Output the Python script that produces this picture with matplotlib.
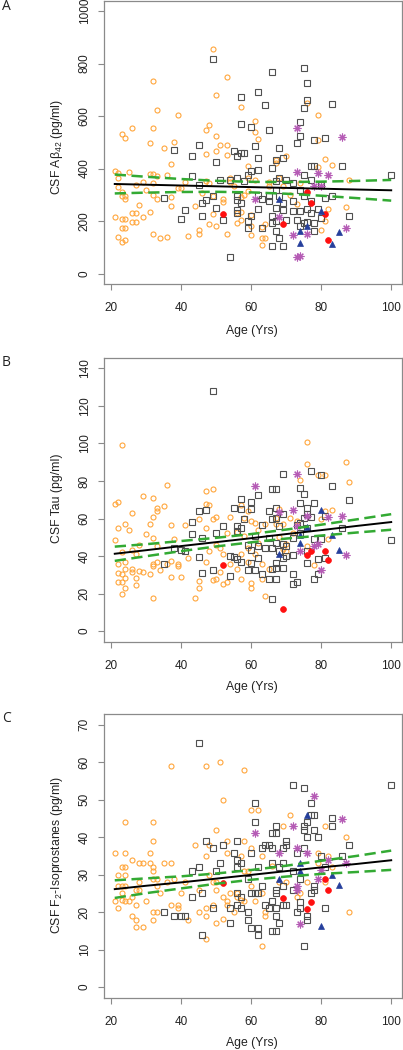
import matplotlib
matplotlib.use("Agg")
import matplotlib.pyplot as plt

plt.rcParams['font.family'] = ['Liberation Sans', 'DejaVu Sans']
plt.rcParams['mathtext.fontset'] = 'custom'
plt.rcParams['mathtext.rm'] = 'Liberation Sans'
plt.rcParams['mathtext.it'] = 'Liberation Sans:italic'

# ---- panel A : CSF Abeta42 ----
a_orange = [(21,391),(21,215),(22,382),(22,365),(22,139),(22,330),(23,310),(23,294),(23,530),(23,120),
            (23,208),(24,208),(24,518),(24,129),(23,172),(24,172),(24,282),(24,294),(25,387),(26,554),
            (26,230),(26,195),(27,230),(27,195),(27,337),(28,261),(29,215),(29,348),(30,317),(31,499),
            (31,236),(31,380),(32,734),(32,554),(32,380),(32,345),(32,300),(32,152),(33,623),(33,370),
            (33,284),(34,135),(35,477),(36,138),(36,375),(37,418),(37,292),(37,259),(38,500),(39,605),
            (39,325),(40,325),(41,350),(42,142),(44,256),(45,165),(45,151),(46,307),(47,454),(47,545),
            (48,566),(48,190),(47,354),(48,344),(49,856),(49,294),(49,225),(50,180),(50,524),(50,468),
            (51,490),(50,680),(52,284),(52,272),(53,748),(53,489),(53,453),(53,150),(54,362),(54,350),
            (55,332),(56,230),(56,193),(57,633),(57,290),(57,235),(57,202),(58,298),(59,408),(59,363),
            (59,313),(60,180),(60,145),(60,223),(61,580),(61,540),(62,512),(61,356),(63,177),(64,190),
            (63,136),(64,136),(63,109),(65,347),(65,333),(67,433),(67,421),(68,363),(69,333),(70,446),
            (71,298),(73,266),(74,345),(76,648),(79,603),(79,509),(79,406),(81,435),(83,413),(80,167),
            (81,199),(87,253),(88,357),(82,246)]
a_gray = [(38,471),(35,289),(40,209),(41,243),(43,448),(43,370),(45,490),(45,338),(46,268),(46,220),
          (47,281),(49,819),(49,294),(50,423),(50,248),(51,357),(52,203),(54,357),(54,63),(55,465),
          (56,446),(56,363),(56,294),(56,281),(56,243),(56,230),(57,671),(57,570),(57,458),(58,458),
          (58,351),(57,268),(59,376),(59,199),(59,173),(60,557),(60,389),(60,218),(61,484),(62,690),
          (62,439),(62,395),(62,300),(62,246),(63,173),(63,284),(64,642),(65,547),(65,294),(65,275),
          (66,768),(66,401),(66,218),(66,192),(66,104),(67,433),(67,351),(67,319),(67,249),(67,199),
          (67,161),(68,477),(68,363),(68,294),(68,134),(69,439),(69,268),(69,243),(69,106),(70,357),
          (70,205),(72,344),(72,275),(72,237),(73,496),(73,205),(74,578),(74,522),(74,319),(74,237),
          (74,180),(75,781),(75,629),(75,376),(75,294),(75,192),(76,727),(76,661),(76,246),(76,195),
          (77,410),(77,357),(77,275),(77,230),(78,509),(78,410),(78,192),(78,161),(79,246),(80,338),
          (80,211),(81,515),(81,287),(83,645),(83,297),(86,408),(88,220),(100,376)]
a_red = [(52,228),(69,189),(76,309),(77,268),(81,227),(82,129)]
a_blue = [(68,284),(74,161),(74,116),(76,180),(80,237),(83,114),(85,157)]
a_purple = [(61,284),(68,215),(72,147),(73,553),(73,386),(73,62),(74,68),(76,151),(78,332),(79,382),
            (80,334),(82,376),(86,519),(87,172)]

# ---- panel B : CSF Tau ----
b_orange = [(21,48.5),(21,68),(22,68.8),(22,55),(22,36),(22,31),(22,26),(23,99),(23,42),(23,30.5),
            (23,26),(23,20),(24,57),(24,37),(24,33),(24,28.5),(24,23),(25,54),(26,63),(26,43),
            (26,33),(26,31.5),(27,41),(27,28.5),(27,24.5),(28,46),(28,32),(29,31.5),(29,72),(30,51.5),
            (31,57),(31,30.5),(32,70.7),(32,61),(32,49.7),(32,36),(32,34.6),(32,17.4),(33,65.4),(33,64),
            (33,45.3),(33,37),(34,32.7),(35,66.6),(36,78),(36,36),(37,56.5),(37,37.3),(37,29),(38,49),
            (39,34.6),(39,35.5),(40,29),(41,56.5),(42,38.7),(44,17.4),(45,60),(45,26.6),(45,22.7),(47,74.6),
            (47,68),(47,55),(47,37),(48,67),(48,42.6),(49,75.8),(49,60),(49,27),(50,61),(50,46),
            (50,28),(51,31.4),(51,44.4),(52,41),(52,25),(53,52.4),(53,26),(54,61),(54,35.5),(56,33),
            (56,53),(57,41),(57,28),(57,67),(58,60.4),(58,50.6),(59,44.4),(59,37),(59,64),(60,25.8),
            (60,23),(60,58.6),(61,57.4),(61,41),(62,47),(62,54),(63,35.5),(63,28),(64,18.7),(64,57),
            (65,33),(67,60.4),(67,57),(68,65),(68,50),(69,57),(69,43.5),(70,46.5),(70,42.6),(71,60.4),
            (72,52.4),(73,58.6),(74,80.3),(76,101),(76,89),(76,45.3),(79,83),(81,83),(80,59.5),(81,64),
            (82,48.9),(83,64.3),(78,35),(87,90),(88,79.4)]
b_gray = [(35,35.9),(38,44.4),(40,43),(41,42.6),(43,58.3),(43,51.5),(45,64),(45,39.4),(46,49.7),(46,31),
          (47,64.3),(49,128),(49,32.5),(50,52.4),(52,56),(54,40),(54,29.3),(55,65.4),(55,39.4),(56,56),
          (56,53.3),(56,38.2),(57,70.5),(57,65.2),(57,55),(57,37),(58,59.5),(59,32.5),(59,46),(60,68.7),
          (60,65.2),(60,43),(60,36.4),(61,50.6),(61,32.5),(62,72.8),(62,39),(62,45.3),(63,56.8),(63,30.2),
          (64,44.4),(65,64),(65,27.9),(65,49.7),(66,75.8),(66,59.5),(66,44.4),(66,32.9),(66,17.2),(67,75.5),
          (67,65.4),(67,60.4),(67,47),(67,36.4),(67,33.8),(67,27.9),(68,56),(68,42.6),(69,83.9),(69,62.2),
          (69,46.2),(69,38.7),(69,33.8),(70,45.3),(70,40),(72,49.7),(72,40.5),(72,30.2),(72,24.9),(73,26.1),
          (73,56.8),(74,76.4),(74,68.4),(74,57.7),(74,52.4),(75,73.2),(75,60.4),(76,65.4),(76,62.5),(76,55),
          (76,36.4),(76,42.6),(77,85.3),(77,60.8),(78,68.4),(78,48.9),(78,27.9),(79,38.2),(79,30.6),(80,83),
          (80,49.2),(81,61.3),(81,39),(83,77.3),(86,55),(88,69.8),(100,48.5)]
b_red = [(52,35),(69,11.5),(76,40.5),(77,42.6),(81,42.6),(82,37.8)]
b_blue = [(68,40.9),(74,47),(74,51),(76,55.4),(80,64.5),(83,51),(85,43)]
b_purple = [(61,77.3),(68,63.4),(72,64.3),(73,83.9),(73,56),(74,42.6),(76,61.6),(78,45.3),(79,46.2),
            (80,32.5),(82,61),(86,61.6),(87,40.5)]

# ---- panel C : CSF F2-Isoprostanes ----
c_orange = [(21,35.8),(21,22.9),(22,30),(22,27),(22,21),(23,27),(23,25),(23,23.1),(23,32),(24,44),
            (24,35.8),(24,32),(24,30),(24,27),(24,22.9),(25,22.9),(26,34),(26,24),(26,19),(27,26),
            (27,22),(27,18),(27,16),(28,33),(28,28),(28,25.8),(29,33),(29,16),(30,22.9),(31,35.8),
            (31,33),(32,44),(32,39),(32,32),(32,31),(32,28.9),(32,20),(32,18),(33,28.9),(33,20),
            (33,27),(34,25),(35,33),(36,28),(37,59),(37,33),(37,22),(38,28.9),(39,22),(39,21),
            (40,25),(41,28),(42,18),(44,38),(45,26),(45,20),(47,59),(47,35),(47,21),(47,19),
            (47,12.9),(48,38),(48,30),(49,28),(49,22),(50,42),(50,28),(50,26),(50,17),(51,60),
            (52,50),(52,24),(52,18.2),(53,39),(53,35.8),(53,22),(53,22.9),(54,25),(55,20),(56,25),
            (56,24),(57,35),(57,23.1),(58,58),(58,39),(58,31),(58,22.9),(59,31),(60,47.1),(60,37),
            (60,27),(61,22.9),(62,47.1),(63,35),(63,25),(63,11),(64,20),(64,19),(66,32.2),(68,28),
            (69,43),(70,28),(71,46),(73,24),(74,25),(76,28),(79,35.8),(79,33),(81,43),(81,28),
            (82,35),(83,32),(87,40),(88,20)]
c_gray = [(35,20),(38,19),(40,19),(41,19),(43,31),(43,24),(45,32),(45,65),(46,25),(46,13.8),
          (47,39),(49,37),(49,21),(50,31),(51,33),(52,38),(54,21),(54,17),(55,35.8),(56,39),
          (56,34),(56,32),(56,25),(56,22),(57,33),(57,24),(57,21),(59,28.9),(59,20),(59,18),
          (60,35.8),(60,25),(60,15.8),(61,49),(61,44),(61,25),(62,32),(62,25),(62,15.8),(62,14),
          (63,37),(63,27),(64,38),(64,22),(65,38),(65,21),(66,41),(66,37),(66,33),(66,22.9),
          (66,15),(67,43),(67,41),(67,26),(67,25),(67,21),(67,19),(67,15),(68,32),(68,17),
          (69,37),(69,33),(69,27),(69,22),(70,39),(70,38),(70,22),(72,54),(72,31),(72,25.8),
          (73,35.8),(73,20),(74,28.9),(74,22.7),(74,21),(75,53),(75,43),(75,42),(75,37),(75,10.9),
          (76,44),(76,40),(76,19),(76,18),(77,49),(77,46),(77,25),(78,46),(78,42),(78,27),
          (78,25.8),(79,40),(80,35),(81,32),(81,21),(83,45),(83,43),(86,35),(88,38),(100,54)]
c_red = [(52,27.8),(69,23.7),(76,20.9),(77,22.7),(81,28.9),(82,25.8)]
c_blue = [(68,28.9),(74,33.2),(74,31),(76,46),(80,16.2),(83,30),(85,27.1)]
c_purple = [(61,41),(68,35.8),(72,43),(73,37),(73,27),(73,26),(74,16.9),(76,35.8),(78,51),(79,28.9),
            (80,31.1),(82,34),(86,44.9),(87,33)]

# regression fit and 95% band
fit_age = [21, 30, 40, 50, 60, 70, 80, 90, 100]
a_fit = [341, 338.3, 335.2, 332.2, 329.1, 326.1, 323.1, 320.0, 317.0]
a_up = [377, 368.5, 359.9, 353.2, 349.2, 348.3, 349.9, 352.7, 356.4]
a_lo = [305, 308.1, 310.5, 311.2, 309.0, 303.9, 296.3, 287.3, 277.6]
b_fit = [41.2, 43.1, 45.3, 47.4, 49.5, 51.7, 53.8, 56.0, 58.1]
b_up = [45.0, 46.3, 48.0, 49.7, 51.7, 54.1, 56.7, 59.5, 62.3]
b_lo = [37.4, 39.9, 42.6, 45.1, 47.3, 49.3, 50.9, 52.5, 54.0]
c_fit = [26.1, 27.0, 27.9, 28.9, 29.9, 30.9, 31.9, 32.8, 33.8]
c_up = [28.45, 28.97, 29.51, 30.27, 31.2, 32.35, 33.65, 34.94, 36.37]
c_lo = [23.75, 25.03, 26.29, 27.53, 28.6, 29.45, 30.15, 30.66, 31.23]

styles = [
    dict(marker='o', mfc='none', mec='#FFA63C', ms=3.6, mew=0.8),
    dict(marker='s', mfc='none', mec='#505050', ms=3.8, mew=0.8),
    dict(marker='o', mfc='#FF1010', mec='#FF1010', ms=4.2, mew=0.5),
    dict(marker='^', mfc='#253F9C', mec='#253F9C', ms=4.4, mew=0.5),
    dict(marker=(8, 2, 0), mfc='#B55BB5', mec='#B55BB5', ms=5.6, mew=0.8),
]


def draw_panel(ax, groups, fit, up, lo, ymax, ystep):
    for pts, st in zip(groups, styles):
        xs, ys = zip(*pts)
        ax.plot(xs, ys, linestyle='none', **st)
    ax.plot(fit_age, fit, color='black', lw=1.4)
    ax.plot(fit_age, up, color='#33AA33', lw=1.8, linestyle=(0, (4.5, 2.2)))
    ax.plot(fit_age, lo, color='#33AA33', lw=1.8, linestyle=(0, (4.5, 2.2)))

    ax.set_xlim(17.84, 103.0)
    ax.set_ylim(-0.04 * ymax, 1.04 * ymax)
    ax.set_xticks(range(20, 101, 20))
    ax.set_yticks(range(0, ymax + 1, ystep))
    for sp in ax.spines.values():
        sp.set_color('#8a8a8a')
        sp.set_linewidth(0.9)
    ax.tick_params(direction='out', length=4.3, width=0.8, color='#8a8a8a',
                   labelsize=8.5, labelcolor='#222222')
    ax.tick_params(axis='x', pad=9)
    ax.tick_params(axis='y', pad=5)
    for lab in ax.get_yticklabels():
        lab.set_rotation(90)
        lab.set_va('center')


fig = plt.figure(figsize=(4.03, 10.5), dpi=100)
W, H = 403.0, 1050.0

panels = [
    ('A', 0.5, [a_orange, a_gray, a_red, a_blue, a_purple], a_fit, a_up, a_lo, 1000, 200,
     'CSF A\u03b2$_{42}$ (pg/ml)', 147, 331, 7),
    ('B', 358, [b_orange, b_gray, b_red, b_blue, b_purple], b_fit, b_up, b_lo, 140, 20,
     'CSF Tau (pg/ml)', 498, 687, 363),
    ('C', 714, [c_orange, c_gray, c_red, c_blue, c_purple], c_fit, c_up, c_lo, 70, 10,
     'CSF F$_{2}$-Isoprostanes (pg/ml)', 855, 1043, 719),
]

for letter, top, groups, fit, up, lo, ymax, ystep, ylab, ylab_y, xlab_y, let_y in panels:
    ax = fig.add_axes([103.7 / W, 1 - (top + 283.5) / H, 298 / W, 283.5 / H])
    draw_panel(ax, groups, fit, up, lo, ymax, ystep)
    fig.text(57 / W, 1 - ylab_y / H, ylab, rotation=90, ha='center', va='center',
             fontsize=8.8, color='#222222')
    fig.text(252 / W, 1 - xlab_y / H, 'Age (Yrs)', ha='center', va='center',
             fontsize=8.8, color='#222222')
    fig.text(2 / W, 1 - let_y / H, letter, ha='left', va='center', fontsize=10,
             family=['Open Sans', 'DejaVu Sans'], color='#222222')

fig.savefig('out.png', dpi=100)
